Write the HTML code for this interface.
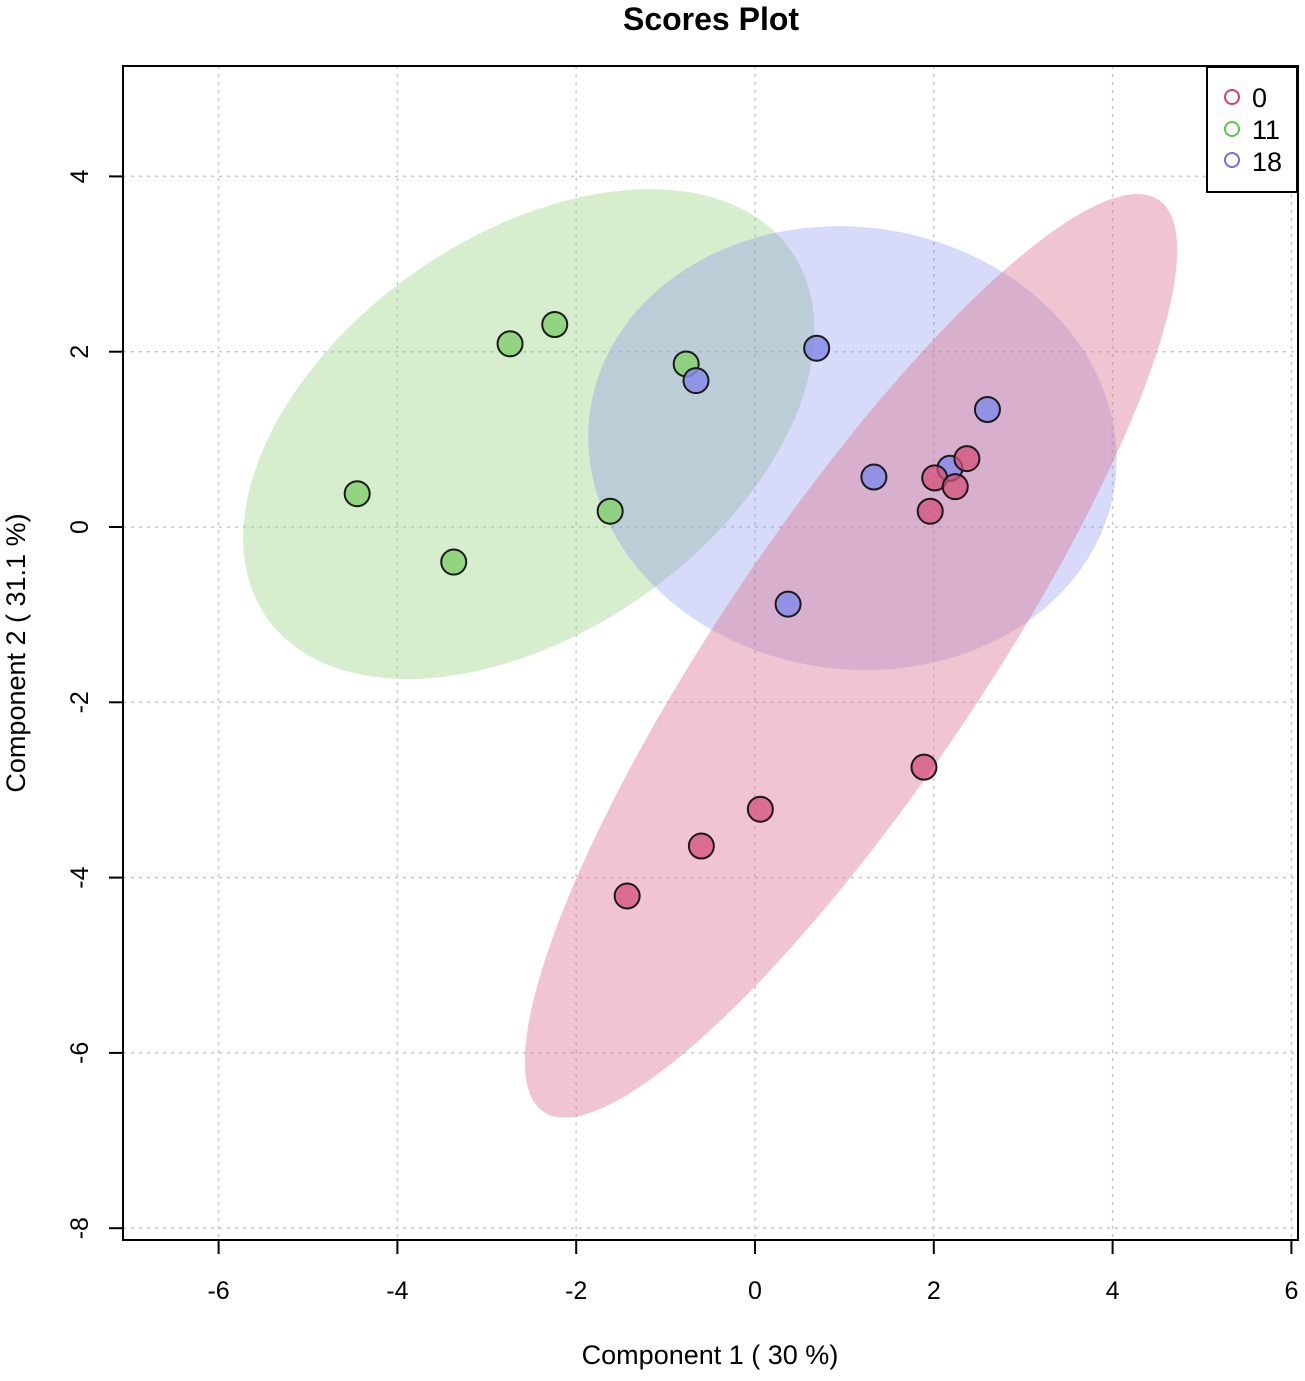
<!DOCTYPE html>
<html><head><meta charset="utf-8"><style>
html,body{margin:0;padding:0;background:#fff;}
svg{display:block;font-family:"Liberation Sans",sans-serif;}
</style></head><body>
<svg id="chart" width="1305" height="1381" viewBox="0 0 1305 1381" xmlns="http://www.w3.org/2000/svg">
<text x="711" y="30" text-anchor="middle" font-size="32" font-weight="bold" fill="#000">Scores Plot</text>
<g id="grid"></g>
<g id="ellipses"></g>
<g id="points"></g>
<rect x="123" y="66" width="1175" height="1174" fill="none" stroke="#000" stroke-width="2"/>
<g id="axes"></g>
<text x="710" y="1364" text-anchor="middle" font-size="27" fill="#000">Component 1 ( 30 %)</text>
<text transform="translate(25,653) rotate(-90)" text-anchor="middle" font-size="27" fill="#000">Component 2 ( 31.1 %)</text>
<g>
<rect x="1207" y="67" width="90" height="125" fill="#fff" stroke="#000" stroke-width="2"/>
<circle cx="1232" cy="97" r="7" fill="none" stroke="#d6406d" stroke-width="2"/>
<text x="1252" y="107" font-size="27">0</text>
<circle cx="1232" cy="129" r="7" fill="none" stroke="#5ec250" stroke-width="2"/>
<text x="1252" y="139" font-size="27">11</text>
<circle cx="1232" cy="160" r="7" fill="none" stroke="#6a70e0" stroke-width="2"/>
<text x="1252" y="171" font-size="27">18</text>
</g>
</svg>
<script>
const xTicks = [-6,-4,-2,0,2,4,6];
const yTicks = [4,2,0,-2,-4,-6,-8];
const groups = ["0","11","18"];
const xs0 = [2.01,2.24,2.37,1.96,1.89,0.06,-0.6,-1.43];
const ys0 = [0.56,0.46,0.78,0.18,-2.74,-3.22,-3.64,-4.21];
const xs11 = [-2.24,-2.74,-0.77,-4.45,-3.37,-1.62];
const ys11 = [2.31,2.09,1.86,0.38,-0.40,0.18];
const xs18 = [0.69,-0.66,2.6,1.33,2.18,0.37];
const ys18 = [2.04,1.67,1.34,0.57,0.67,-0.88];
// ellipse centers (data units)
const ellCx = [1.074,-2.53,1.09];
const ellCy = [-1.47,1.06,0.90];

const NS="http://www.w3.org/2000/svg";
const X = v => 755 + v*89.4;
const Y = v => 527 - v*87.65;
function mk(tag, attrs, parent){const e=document.createElementNS(NS,tag);for(const k in attrs)e.setAttribute(k,attrs[k]);parent.appendChild(e);return e;}
const grid=document.getElementById('grid'), axes=document.getElementById('axes');
xTicks.forEach(t=>{
  const g=mk('line',{x1:X(t),x2:X(t),y1:66,y2:1240,stroke:'#c8c8c8','stroke-width':1.5,'stroke-dasharray':'3,5'},grid);
  
  
  mk('line',{x1:X(t),x2:X(t),y1:1240,y2:1254,stroke:'#000','stroke-width':2},axes);
  const tx=mk('text',{x:X(t),y:1299,'text-anchor':'middle','font-size':25},axes);
  tx.textContent=t;
  
  
});
yTicks.forEach(t=>{
  const g=mk('line',{x1:123,x2:1298,y1:Y(t),y2:Y(t),stroke:'#c8c8c8','stroke-width':1.5,'stroke-dasharray':'3,5'},grid);
  
  
  mk('line',{x1:109,x2:123,y1:Y(t),y2:Y(t),stroke:'#000','stroke-width':2},axes);
  const tx=mk('text',{transform:`translate(88,${Y(t)}) rotate(-90)`,'text-anchor':'middle','font-size':25},axes);
  tx.textContent=t;
  
  
});
const ellG=document.getElementById('ellipses');
const ellStyle=[
 {rx:550,ry:131,ang:-56,fill:'rgba(218,110,140,0.40)'},
 {rx:320,ry:198,ang:-35,fill:'rgba(140,205,120,0.36)'},
 {rx:265,ry:221,ang:8,fill:'rgba(130,140,235,0.32)'}
];
[1,2,0].forEach(i=>{
  const s=ellStyle[i];
  const e=mk('ellipse',{cx:X(ellCx[i]),cy:Y(ellCy[i]),rx:s.rx,ry:s.ry,fill:s.fill,transform:`rotate(${s.ang} ${X(ellCx[i])} ${Y(ellCy[i])})`},ellG);
  
  
});
const ptG=document.getElementById('points');
const series=[[xs11,ys11,'rgba(140,208,120,0.9)','11'],[xs18,ys18,'rgba(135,140,232,0.85)','18'],[xs0,ys0,'rgba(212,80,122,0.75)','0']];
series.forEach(([xs,ys,col,name])=>{
  xs.forEach((x,j)=>{
    const c=mk('circle',{cx:X(x),cy:Y(ys[j]),r:12.5,fill:col,stroke:'#1a1a1a','stroke-width':2},ptG);
    
    
  });
});
</script>
</body></html>
